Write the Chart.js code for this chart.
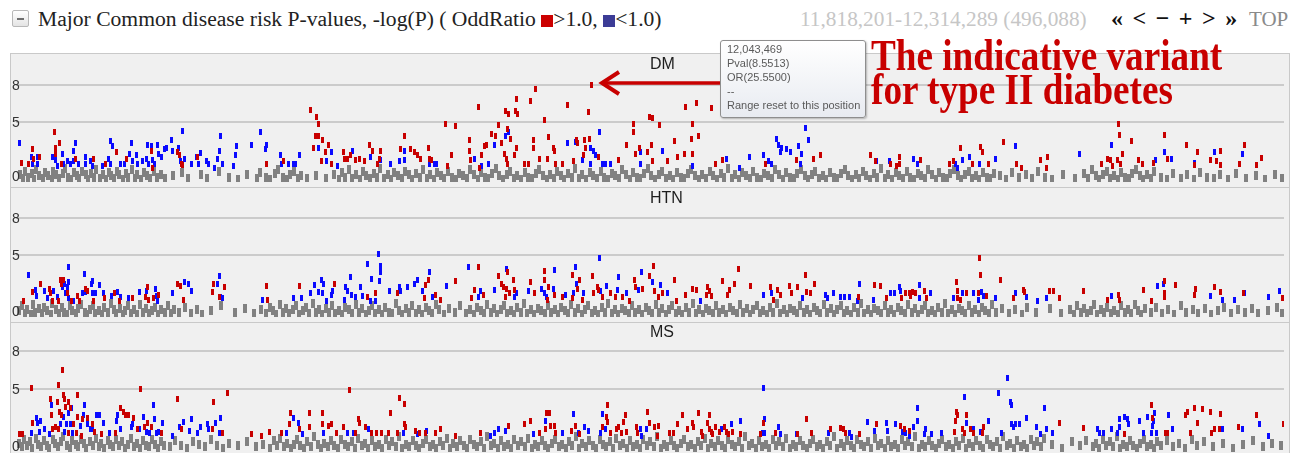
<!DOCTYPE html>
<html>
<head>
<meta charset="utf-8">
<script src="https://cdn.jsdelivr.net/npm/chart.js@4.4.1/dist/chart.umd.min.js"></script>
<style>
html,body{margin:0;padding:0;background:#fff;}
body{width:1294px;height:453px;overflow:hidden;position:relative;}
.abs{position:absolute;white-space:nowrap;}
.serif{font-family:"Liberation Serif","Times New Roman",serif;}
.panel{position:absolute;left:10px;width:1280px;box-sizing:border-box;border:1px solid #c9c9c9;background:#f0f0f0;}
.panel canvas{position:absolute;left:0;top:0;}
.ptitle{position:absolute;left:650px;font:16px/16px "Liberation Sans",Arial,sans-serif;color:#1e1e1e;}
.sq{display:inline-block;width:12px;height:12px;vertical-align:-1px;}
</style>
</head>
<body>
<div class="abs" style="left:12px;top:10px;width:17px;height:17px;box-sizing:border-box;border:1px solid #b8b8b8;border-radius:2px;background:linear-gradient(#ffffff,#e4e4e4);"><div style="position:absolute;left:4px;top:7px;width:7px;height:2px;background:#6e6e6e;"></div></div>
<div class="abs serif" style="left:38px;top:6px;font-size:21.6px;line-height:26px;color:#222;">Major Common disease risk P-values, -log(P) ( OddRatio <span class="sq" style="background:#cc0000"></span>&gt;1.0, <span class="sq" style="background:#3c3c96"></span>&lt;1.0)</div>
<div class="abs serif" id="range" style="left:800px;top:6px;font-size:21.3px;line-height:26px;color:#c6c6c6;"></div>
<div class="abs serif" style="left:1111px;top:5px;font-size:24px;line-height:26px;font-weight:bold;color:#111;letter-spacing:9.5px;">«&lt;−+&gt;»</div>
<div class="abs serif" style="left:1249px;top:6px;font-size:21px;line-height:26px;color:#8a8a8a;">TOP</div>

<div class="panel" style="top:53px;height:135px;"><canvas id="c1" width="1278" height="133"></canvas></div>
<div class="panel" style="top:187px;height:136px;"><canvas id="c2" width="1278" height="134"></canvas></div>
<div class="panel" style="top:322px;height:140px;"><canvas id="c3" width="1278" height="134"></canvas></div>
<div class="ptitle" id="t1" style="top:56px;"></div>
<div class="ptitle" id="t2" style="top:190px;"></div>
<div class="ptitle" id="t3" style="top:324px;"></div>

<svg class="abs" style="left:0;top:0;" width="1294" height="453">
<line x1="604" y1="83" x2="724" y2="83" stroke="#c80000" stroke-width="3.5"/>
<polyline points="619,72 602,83 619,94" fill="none" stroke="#c80000" stroke-width="4"/>
</svg>
<div class="abs" id="tip" style="left:720px;top:40px;width:146px;height:78px;box-sizing:border-box;border:1px solid #8e8e8e;border-radius:3px;background:linear-gradient(#ffffff,#e8ebf1);box-shadow:1px 1px 2px rgba(0,0,0,0.25);font:11px/14px 'Liberation Sans',Arial,sans-serif;color:#5a5a5a;padding:1px 0 0 6px;"></div>
<div class="abs serif" style="left:871px;top:39px;font-size:37.2px;line-height:28.8px;font-weight:bold;color:#c80000;transform:scaleY(1.18);transform-origin:0 0;">The indicative variant<br>for type II diabetes</div>

<script>
// ---- region / annotation values ----
const regionStart = 11818201, regionEnd = 12314289;
const markedPos = 12043469, markedPval = 8.5513, markedOR = 25.55;
const panelNames = ['DM', 'HTN', 'MS'];
const yTickValues = [0, 5, 8];
const displayCap = 8; // -log(P) values above this are drawn on the cap line

// ---- series: [position kb from region start, -log10(P)] ----
const dmRed = [[2.3,1.6],[4.7,1.5],[6.6,2.7],[6.8,1.9],[9.3,2.1],[15.1,4.1],[15.3,2.8],[17.1,3.2],[15.5,2.3],[17.8,1.5],[23.3,1.9],[30.2,1.9],[34.9,1.5],[39.5,2.5],[43.4,1.9],[53.1,2.6],[53.3,1.2],[63.2,2.5],[64.0,2.2],[64.7,1.5],[65.1,1.4],[70.9,2.1],[98.1,1.5],[104.7,1.7],[115.1,6.0],[117.4,5.4],[118.2,4.8],[117.1,3.8],[118.4,3.8],[119.8,3.5],[116.3,2.8],[122.1,3.1],[120.9,2.5],[119.4,1.7],[123.3,1.5],[128.3,2.5],[128.7,1.9],[131.0,2.2],[129.8,1.9],[132.9,1.8],[134.5,1.9],[136.4,1.7],[138.4,3.1],[139.5,2.6],[142.6,2.6],[142.2,1.9],[141.5,1.5],[150.4,2.7],[151.9,3.8],[154.3,2.7],[155.8,2.5],[157.0,2.2],[158.1,1.9],[161.2,2.8],[161.6,1.9],[162.4,1.8],[168.2,4.8],[169.0,1.3],[170.5,2.2],[172.1,4.6],[177.5,3.5],[177.5,2.6],[177.7,1.8],[181.0,6.2],[182.2,2.2],[181.4,1.2],[183.3,3.0],[184.1,3.1],[186.0,4.0],[188.8,4.7],[187.6,3.8],[189.9,3.2],[192.2,4.4],[191.5,5.9],[192.6,5.6],[195.4,5.9],[196.1,5.6],[195.7,6.9],[193.4,3.6],[195.7,2.8],[191.1,2.3],[191.9,1.9],[195.0,2.2],[192.2,1.5],[201.2,6.7],[203.1,7.7],[202.3,3.5],[202.3,2.8],[198.8,1.5],[200.4,1.5],[206.6,5.1],[204.7,1.9],[208.1,1.9],[208.5,3.7],[210.1,2.8],[210.5,2.6],[210.9,1.5],[214.0,1.5],[215.9,6.4],[218.2,1.7],[219.4,3.5],[219.8,3.2],[222.5,3.5],[224.0,5.8],[224.4,3.6],[222.9,2.8],[222.1,2.2],[225.268,8.5513],[227.9,2.1],[235.7,1.8],[238.8,3.1],[241.5,4.8],[241.5,4.1],[242.3,2.3],[243.8,2.8],[247.7,5.4],[249.2,5.3],[248.8,3.1],[246.9,2.5],[249.2,1.7],[251.6,4.7],[255.0,1.7],[257.8,3.4],[258.9,2.1],[261.6,2.3],[262.0,6.2],[266.3,6.5],[264.7,4.8],[264.3,3.6],[267.1,3.8],[264.7,2.3],[272.1,6.1],[273.6,1.5],[276.4,1.8],[293.4,1.5],[305.4,1.8],[312.0,1.9],[314.7,2.2],[334.5,2.2],[336.1,1.7],[342.2,1.5],[345.7,2.1],[345.7,1.5],[344.6,1.3],[353.9,1.8],[369.4,2.8],[365.1,1.5],[366.7,1.7],[374.4,1.5],[377.5,2.9],[378.3,2.5],[380.6,1.5],[386.4,3.3],[391.5,1.5],[393.4,1.2],[400.8,1.8],[403.5,2.1],[403.1,1.2],[424.8,1.5],[427.1,1.9],[428.3,1.8],[429.1,1.3],[431.0,1.8],[431.4,4.8],[431.8,3.9],[433.0,2.3],[432.2,1.5],[436.4,3.4],[439.2,1.8],[440.7,1.5],[445.0,1.6],[449.2,3.9],[450.4,1.9],[458.1,3.1],[462.4,2.5],[460.9,1.4],[467.5,1.8],[469.8,1.7],[471.3,2.6],[471.3,1.4],[478.7,1.5],[480.6,3.1],[485.3,1.4],[487.2,2.0]];
const dmBlue = [[1.2,3.2],[6.2,2.1],[6.3,1.5],[8.5,2.1],[8.6,1.5],[14.3,2.1],[15.5,1.8],[16.3,1.3],[18.2,2.3],[18.6,1.5],[20.2,1.7],[21.3,1.5],[22.5,1.7],[23.3,3.2],[22.6,2.6],[24.4,1.5],[27.1,2.1],[27.2,1.5],[29.1,1.7],[29.8,1.3],[33.7,1.3],[36.8,3.4],[37.6,3.0],[36.0,1.9],[36.9,1.5],[40.7,1.5],[42.6,1.5],[44.6,2.3],[45.3,3.2],[45.7,1.7],[47.3,2.2],[47.7,1.5],[49.6,1.7],[51.6,3.1],[51.2,1.9],[51.7,1.5],[53.1,3.0],[53.5,1.8],[54.3,1.5],[55.4,3.1],[55.8,2.3],[57.0,2.1],[58.1,2.7],[58.9,2.8],[60.9,3.5],[61.2,2.6],[63.6,2.8],[65.1,4.2],[65.9,1.9],[64.3,1.7],[68.6,1.5],[70.5,2.1],[71.3,1.5],[72.1,2.4],[74.4,1.7],[75.2,1.5],[77.5,1.2],[78.7,1.9],[79.5,2.6],[80.2,3.8],[80.6,1.5],[84.9,1.3],[86.4,3.0],[86.0,2.2],[92.2,3.1],[95.7,4.1],[98.1,3.1],[97.7,2.7],[103.5,2.2],[103.9,1.5],[106.6,1.5],[108.5,1.5],[109.3,1.5],[110.9,2.2],[118.2,2.8],[123.3,2.5],[121.3,1.7],[125.6,1.3],[131.8,2.6],[138.8,2.1],[142.6,1.8],[146.5,1.5],[150.0,1.7],[151.9,2.6],[152.0,1.8],[161.6,1.5],[163.6,1.5],[164.7,1.5],[179.5,1.9],[182.2,1.3],[184.9,1.5],[187.2,3.1],[191.5,3.8],[192.6,4.1],[215.9,3.2],[219.0,3.3],[224.8,2.8],[226.0,2.6],[226.7,2.2],[221.7,1.8],[224.9,1.5],[228.3,4.1],[229.5,1.5],[230.6,1.5],[232.6,1.5],[244.2,2.5],[244.3,1.5],[253.1,2.6],[264.7,1.3],[277.9,1.9],[282.9,1.2],[286.8,2.1],[292.6,2.2],[294.6,1.7],[295.7,1.5],[297.7,3.6],[298.5,3.1],[299.6,2.8],[299.2,2.5],[301.6,2.7],[303.1,2.5],[306.2,3.0],[307.4,2.3],[308.9,4.5],[310.1,3.5],[307.0,1.5],[336.8,1.7],[341.9,1.7],[351.2,1.9],[352.7,1.5],[367.4,1.5],[368.2,1.2],[370.5,1.8],[372.9,2.1],[377.1,1.5],[383.3,1.9],[391.1,3.0],[415.9,2.3],[428.7,3.1],[445.7,1.8],[449.2,2.5],[451.9,1.9],[461.2,1.6],[469.0,2.5],[479.8,2.3]];
const dmGray = [[1.6,.6],[2.9,.3],[3.7,.9],[4.8,.4],[6.1,.7],[6.9,.2],[8.0,1.0],[9.1,.5],[10.4,.3],[11.2,.8],[12.5,.5],[13.9,.2],[14.6,.9],[15.8,.6],[17.0,.3],[18.3,.7],[19.1,1.1],[20.4,.4],[21.6,.2],[22.7,.8],[23.9,.5],[24.6,.3],[25.8,.9],[27.2,.6],[28.0,.2],[29.4,.7],[30.5,.4],[31.3,1.0],[32.8,.3],[33.9,.6],[35.1,.2],[36.2,.8],[37.0,.5],[38.5,.3],[39.6,.9],[40.4,.6],[41.9,.2],[43.1,.7],[44.0,.4],[45.3,1.0],[46.6,.3],[47.5,.6],[48.9,.2],[50.2,.8],[51.4,.5],[52.6,.3],[53.8,.9],[55.1,.4],[56.7,.6],[58.2,.3],[61.5,.5],[64.9,.8],[67.3,.3],[72.4,.6],[74.8,.3],[79.3,.9],[83.2,.4],[86.9,.2],[90.5,.6],[94.2,.3],[95.6,.8],[97.9,.4],[99.4,.2],[101.2,.7],[102.6,1.0],[104.4,.4],[106.1,.2],[107.3,.6],[108.8,.9],[110.2,.3],[111.6,.5],[113.9,.3],[117.2,.5],[121.4,.3],[124.6,.6],[126.3,.2],[127.5,.8],[128.9,.4],[130.4,1.0],[131.6,.3],[133.2,.6],[134.5,.2],[135.8,.9],[137.1,.5],[138.5,.3],[139.9,.7],[141.3,.4],[142.5,1.1],[143.9,.3],[145.4,.6],[146.7,.2],[148.0,.8],[149.5,.5],[150.9,.3],[152.3,.9],[153.6,.6],[155.0,.2],[156.5,.7],[157.9,.4],[159.2,1.0],[160.8,.3],[162.1,.6],[163.4,.2],[164.9,.8],[166.3,.5],[167.6,.3],[169.0,.9],[170.7,.4],[172.0,.2],[173.5,.7],[174.9,.5],[176.3,.3],[177.8,1.0],[179.2,.6],[180.6,.2],[182.0,.8],[183.5,.4],[184.8,.3],[186.4,.7],[187.7,1.1],[189.1,.5],[190.6,.2],[192.0,.6],[193.3,.9],[194.9,.3],[196.2,.5],[197.6,.2],[199.1,.8],[200.5,.4],[201.8,.3],[203.3,.7],[204.7,1.0],[206.0,.5],[207.6,.2],[208.9,.6],[210.3,.3],[211.8,.9],[213.2,.5],[214.5,.2],[216.0,.7],[217.4,.4],[218.8,1.1],[220.3,.3],[221.6,.6],[223.1,.2],[224.5,.8],[225.9,.5],[227.4,.3],[228.8,.9],[230.1,.4],[231.6,.2],[233.0,.7],[234.5,.5],[235.9,.3],[237.2,1.0],[238.7,.6],[240.1,.2],[241.5,.8],[243.0,.4],[244.3,.3],[245.8,.7],[247.2,1.1],[248.6,.5],[250.1,.2],[251.5,.6],[252.9,.9],[254.4,.3],[255.7,.5],[257.1,.2],[258.6,.8],[260.0,.4],[261.4,.3],[262.9,.7],[264.2,1.0],[265.7,.5],[267.1,.2],[268.5,.6],[270.0,.3],[271.4,.9],[272.8,.5],[274.2,.2],[275.7,.7],[277.1,.4],[278.5,1.1],[280.0,.3],[281.3,.6],[282.8,.2],[284.2,.8],[285.7,.5],[287.0,.3],[288.5,.9],[289.9,.4],[291.3,.2],[292.8,.7],[294.2,.5],[295.6,.3],[297.0,1.0],[298.5,.6],[299.9,.2],[301.3,.8],[302.8,.4],[304.2,.3],[305.6,.7],[307.0,1.0],[308.5,.5],[309.9,.2],[311.3,.6],[312.7,.9],[314.2,.3],[315.6,.5],[317.0,.2],[318.5,.8],[319.9,.4],[321.3,.3],[322.8,.7],[324.2,1.0],[325.6,.5],[327.0,.2],[328.5,.6],[329.9,.3],[331.3,.9],[332.7,.5],[334.2,.2],[335.6,.7],[337.0,.4],[338.5,1.1],[339.9,.3],[341.3,.6],[342.7,.2],[344.2,.8],[345.6,.5],[347.0,.3],[348.4,.9],[349.9,.4],[351.3,.2],[352.7,.7],[354.1,.5],[355.6,.3],[357.0,1.0],[358.4,.6],[359.8,.2],[361.3,.8],[362.7,.4],[364.1,.3],[365.5,.7],[367.0,1.0],[368.4,.5],[369.8,.2],[371.2,.6],[372.7,.9],[374.1,.3],[375.5,.5],[376.9,.2],[378.4,.8],[379.8,.4],[381.2,.3],[382.6,.7],[384.9,.5],[387.5,.2],[389.8,.8],[392.6,.4],[395.1,.6],[397.4,.3],[399.9,.9],[402.5,.4],[405.2,.2],[409.8,.6],[414.3,.3],[418.0,.7],[419.6,.3],[421.1,1.0],[422.5,.5],[423.9,.2],[425.3,.6],[426.8,.9],[428.2,.3],[429.6,.5],[431.0,.2],[432.5,.8],[433.9,.4],[435.3,.3],[436.7,.7],[438.2,1.0],[439.6,.5],[441.0,.2],[442.4,.6],[443.9,.3],[445.3,.9],[447.9,.4],[450.5,.2],[452.8,.7],[455.6,.3],[458.2,.6],[460.9,.2],[463.4,.8],[466.1,.4],[468.7,.3],[471.2,.6],[474.0,.2],[477.5,.7],[481.3,.3],[485.0,.5],[488.8,.2],[492.6,.6],[495.3,.3]];

const htnRed = [[3.1,1.3],[6.6,2.0],[9.7,2.7],[13.2,2.3],[13.6,1.9],[14.3,1.3],[16.7,1.3],[17.4,3.0],[18.6,3.0],[17.8,2.7],[20.2,1.9],[21.7,1.3],[24.0,1.7],[24.8,1.3],[27.1,2.3],[27.9,2.1],[30.2,1.3],[34.5,1.5],[38.4,1.9],[40.3,1.3],[45.7,1.5],[51.6,2.4],[50.8,1.6],[51.8,1.4],[53.9,1.5],[55.8,1.8],[63.2,2.7],[64.3,2.5],[65.5,1.4],[77.1,2.7],[76.7,2.0],[81.4,2.4],[79.5,1.6],[98.1,2.5],[98.3,1.4],[110.9,2.5],[124.8,2.7],[137.6,1.6],[140.7,1.9],[149.2,1.9],[161.2,3.0],[160.1,2.6],[159.7,1.5],[164.3,1.8],[165.9,1.4],[172.1,2.9],[181.0,4.0],[179.5,2.2],[178.3,1.5],[182.9,1.8],[188.8,3.3],[189.9,2.7],[192.2,3.6],[190.7,2.4],[191.9,2.3],[194.6,3.0],[193.0,1.9],[195.0,2.2],[191.7,1.6],[201.2,2.8],[202.7,1.9],[206.6,3.7],[206.8,3.0],[208.5,2.4],[210.5,1.8],[208.1,1.4],[214.0,1.6],[217.8,3.4],[220.5,3.0],[219.8,2.3],[221.7,1.4],[217.6,1.5],[225.6,3.3],[227.5,2.4],[227.9,2.2],[226.0,1.9],[229.5,1.6],[232.6,1.9],[234.5,1.6],[237.2,1.6],[239.9,1.3],[241.9,3.0],[242.3,2.4],[245.3,2.3],[247.7,3.3],[249.6,4.1],[250.0,2.1],[251.2,1.6],[253.1,1.9],[257.8,3.0],[258.5,1.3],[262.0,1.8],[264.7,2.3],[266.3,2.2],[270.5,2.4],[271.3,2.1],[270.2,1.8],[272.1,1.7],[276.4,2.9],[279.1,2.2],[281.0,2.7],[282.6,3.9],[278.3,1.8],[287.2,2.5],[295.0,2.4],[296.5,1.4],[298.1,2.2],[299.2,1.8],[302.7,2.5],[303.5,1.9],[305.8,2.4],[308.9,3.4],[309.1,2.0],[312.4,2.7],[310.9,1.9],[329.5,1.6],[335.7,2.6],[338.4,2.5],[340.7,1.5],[346.5,1.5],[348.1,1.9],[349.6,1.9],[350.8,2.0],[351.9,1.9],[350.0,1.7],[355.4,2.1],[356.2,1.5],[367.8,2.8],[368.2,2.1],[368.4,1.5],[369.4,1.4],[371.7,1.9],[377.1,4.8],[377.3,3.4],[376.7,1.9],[379.8,1.7],[385.3,3.0],[390.3,1.5],[394.2,2.2],[394.6,2.0],[404.3,2.1],[405.8,2.1],[408.1,1.5],[417.5,2.1],[427.1,1.4],[431.4,1.8],[431.8,1.4],[441.1,2.2],[444.2,1.3],[449.2,2.9],[449.4,1.9],[449.2,1.6],[453.5,2.6],[460.9,1.8],[461.6,2.3],[469.0,2.4],[471.3,2.0],[480.2,1.9],[495.4,1.5]];
const htnBlue = [[5.0,3.4],[7.8,2.2],[7.9,1.7],[11.2,2.1],[12.4,1.5],[14.7,2.1],[16.3,1.6],[18.2,2.4],[19.0,2.7],[20.2,2.4],[20.5,2.8],[20.6,4.0],[19.4,1.9],[20.5,1.5],[22.5,1.3],[26.0,1.9],[26.7,3.5],[27.1,2.0],[29.5,2.7],[29.8,2.9],[29.9,1.9],[31.0,1.9],[32.6,2.6],[34.1,1.9],[37.2,1.7],[39.9,2.0],[40.7,1.6],[44.2,1.5],[48.5,2.0],[51.2,2.1],[54.7,2.3],[54.8,1.7],[55.4,1.3],[61.2,1.9],[65.9,2.8],[67.4,2.7],[68.6,2.1],[79.5,3.3],[78.7,2.7],[80.2,1.6],[80.6,1.5],[96.5,1.4],[108.5,1.5],[111.6,1.5],[115.1,1.9],[116.7,2.6],[118.2,2.0],[119.4,3.0],[120.5,2.7],[119.8,1.9],[121.3,1.3],[124.0,2.1],[123.3,1.8],[129.1,2.4],[129.8,2.1],[131.0,3.2],[128.7,1.4],[131.1,1.8],[132.9,1.6],[134.9,2.4],[135.7,1.7],[137.6,4.3],[139.1,3.1],[138.8,1.3],[141.9,5.1],[142.6,4.1],[142.7,3.6],[142.2,2.9],[140.7,1.3],[146.1,2.1],[150.0,2.4],[150.4,2.1],[153.1,2.4],[155.8,2.7],[157.0,3.0],[158.9,2.1],[161.6,3.6],[162.8,1.6],[168.6,2.5],[177.1,4.0],[181.8,2.1],[181.0,1.6],[187.2,2.2],[191.9,3.9],[195.0,1.6],[195.7,1.9],[200.4,2.1],[205.4,2.3],[206.6,1.9],[207.4,1.6],[210.5,3.8],[210.1,2.3],[215.1,1.8],[219.0,4.0],[219.1,2.7],[218.2,1.9],[222.1,1.9],[228.3,4.8],[228.7,2.1],[231.0,2.5],[235.7,3.2],[235.3,2.2],[238.8,1.9],[244.6,3.6],[243.4,2.2],[249.2,2.8],[252.3,2.6],[254.7,1.9],[267.8,1.3],[292.6,1.8],[295.7,1.9],[307.7,1.5],[316.7,1.8],[317.4,1.5],[319.8,1.9],[322.5,1.6],[324.0,1.6],[326.0,1.6],[329.1,1.3],[329.9,2.7],[335.3,1.4],[342.2,1.9],[343.8,1.9],[345.7,2.4],[346.1,2.1],[353.5,2.6],[353.6,1.5],[357.7,1.9],[366.7,1.5],[370.5,1.9],[374.8,1.9],[376.4,1.4],[377.9,2.0],[378.7,1.7],[383.3,1.5],[391.1,1.9],[395.4,1.6],[399.6,1.3],[403.1,1.5],[428.7,1.7],[446.5,2.5],[448.8,2.7],[467.5,1.7],[472.1,1.4],[476.7,1.4],[480.6,1.9],[489.9,1.6],[494.2,2.1]];
const htnGray = [[1.3,.5],[2.5,.9],[3.6,.3],[4.4,.6],[5.7,.2],[6.8,1.0],[7.6,.4],[8.9,.7],[10.1,.3],[11.0,.8],[12.3,.5],[13.5,.2],[14.2,1.1],[15.6,.6],[16.8,.3],[17.9,.8],[18.7,.4],[20.0,.2],[21.2,.9],[22.1,.5],[23.5,.3],[24.4,.7],[25.6,1.0],[26.9,.4],[27.8,.2],[29.0,.6],[30.3,.9],[31.1,.3],[32.4,.5],[33.6,.2],[34.5,.8],[35.9,.4],[37.0,1.1],[38.2,.6],[39.1,.3],[40.5,.7],[41.7,.2],[42.6,.5],[43.9,.9],[45.0,.3],[46.3,.6],[47.2,.2],[48.6,1.0],[49.8,.4],[50.7,.7],[52.0,.3],[53.2,.5],[54.5,.8],[55.4,.2],[56.8,.6],[58.1,.4],[59.3,.9],[60.6,.3],[61.9,.6],[63.8,.4],[66.0,.8],[68.5,.3],[70.9,.6],[72.6,.2],[76.3,.5],[80.1,.9],[85.8,.4],[89.7,.7],[93.1,.3],[95.8,.6],[97.9,.3],[99.2,.8],[100.4,.5],[101.9,.2],[103.1,1.0],[104.5,.4],[105.7,.7],[107.0,.3],[108.3,.6],[109.6,.9],[110.8,.2],[112.2,.5],[113.5,.8],[114.7,.3],[116.1,1.1],[117.3,.4],[118.6,.6],[119.9,.2],[121.2,.7],[122.4,.4],[123.8,.9],[125.0,.3],[126.4,.5],[127.7,.2],[128.9,.8],[130.3,.6],[131.5,.3],[132.9,1.0],[134.1,.4],[135.4,.7],[136.8,.2],[138.0,.5],[139.4,.9],[140.6,.3],[141.9,.6],[143.3,.2],[144.5,.8],[145.9,.4],[147.1,.3],[148.5,1.1],[149.8,.5],[151.0,.2],[152.4,.7],[153.7,.4],[155.0,.9],[156.3,.3],[157.6,.6],[158.9,.2],[160.3,.8],[161.5,.5],[162.9,.3],[164.2,1.0],[165.4,.6],[167.3,.2],[169.6,.7],[171.8,.4],[173.9,.9],[176.2,.3],[177.8,.6],[179.1,.2],[180.4,.8],[181.8,.5],[183.0,.3],[184.4,1.0],[185.7,.4],[187.0,.7],[188.3,.2],[189.6,.6],[191.0,.9],[192.2,.3],[193.6,.5],[194.9,.2],[196.2,.8],[197.5,.4],[198.9,1.1],[200.1,.3],[201.5,.6],[202.8,.2],[204.1,.7],[205.4,.5],[206.8,.3],[208.0,.9],[209.4,.4],[210.7,.6],[212.0,.2],[213.4,.8],[214.6,.5],[216.0,.3],[217.3,1.0],[218.6,.4],[219.9,.7],[221.3,.2],[222.5,.6],[223.9,.9],[225.2,.3],[226.5,.5],[227.8,.2],[229.2,.8],[230.4,.4],[231.8,1.1],[233.1,.3],[234.4,.6],[235.7,.2],[237.1,.7],[238.3,.5],[239.7,.3],[241.0,.9],[242.3,.4],[243.7,.6],[244.9,.2],[246.3,.8],[247.6,.5],[248.9,.3],[250.2,1.0],[251.6,.4],[252.8,.7],[254.2,.2],[255.5,.6],[256.8,.9],[258.1,.3],[259.5,.5],[260.7,.2],[262.1,.8],[263.4,.4],[264.7,1.1],[266.0,.3],[267.4,.6],[268.6,.2],[270.0,.7],[271.3,.5],[272.6,.3],[274.0,.9],[275.2,.4],[276.6,.6],[277.9,.2],[279.2,.8],[280.5,.5],[281.9,.3],[283.1,1.0],[284.5,.4],[285.8,.7],[287.1,.2],[288.4,.6],[289.8,.9],[291.0,.3],[292.4,.5],[293.7,.2],[295.0,.8],[296.3,.4],[297.7,1.1],[298.9,.3],[300.3,.6],[301.6,.2],[302.9,.7],[304.2,.5],[305.6,.3],[306.8,.9],[308.2,.4],[309.5,.6],[310.8,.2],[312.1,.8],[313.5,.5],[314.7,.3],[316.1,1.0],[317.4,.4],[318.7,.7],[320.0,.2],[321.4,.6],[322.6,.9],[324.0,.3],[325.3,.5],[326.6,.2],[327.9,.8],[329.3,.4],[330.5,1.1],[331.9,.3],[333.2,.6],[334.5,.2],[335.8,.7],[337.2,.5],[338.4,.3],[339.8,.9],[341.1,.4],[342.4,.6],[343.7,.2],[345.1,.8],[346.4,.5],[347.7,.3],[349.0,1.0],[350.4,.4],[351.6,.7],[353.0,.2],[354.3,.6],[355.6,.9],[356.9,.3],[358.3,.5],[359.5,.2],[360.9,.8],[362.2,.4],[363.5,1.1],[364.8,.3],[366.2,.6],[367.4,.2],[368.8,.7],[370.1,.5],[371.4,.3],[372.7,.9],[374.1,.4],[375.3,.6],[376.7,.2],[378.0,.8],[379.3,.5],[380.6,.3],[382.0,1.0],[383.3,.4],[385.9,.7],[388.4,.3],[390.8,.6],[393.5,.2],[395.6,.8],[399.2,.4],[404.7,.7],[409.0,.3],[412.5,.6],[413.8,.2],[415.2,.9],[416.5,.4],[417.8,.7],[419.1,.3],[420.5,.5],[421.8,1.0],[423.1,.2],[424.4,.6],[425.8,.4],[427.0,.8],[428.4,.3],[429.7,.5],[431.0,.2],[432.3,.9],[433.7,.4],[435.0,.6],[436.3,.3],[437.6,1.0],[439.0,.5],[440.3,.2],[441.6,.7],[443.9,.4],[446.2,.8],[448.5,.3],[450.9,.6],[453.1,.2],[455.6,.9],[457.8,.4],[460.3,.6],[462.5,.3],[465.0,.7],[467.6,.2],[470.1,.5],[472.7,.8],[475.4,.3],[478.0,.6],[480.9,.4],[483.5,.7],[486.1,.3],[489.8,.5],[493.4,.8],[495.5,.3]];

const msRed = [[1.2,1.4],[2.7,1.4],[6.2,5.1],[6.3,2.3],[13.6,4.2],[14.0,2.9],[14.3,1.8],[16.3,4.0],[16.7,5.3],[18.2,6.5],[18.6,4.5],[19.0,4.2],[17.1,3.2],[17.8,2.9],[19.4,3.6],[20.5,4.0],[21.3,3.5],[15.5,2.0],[16.7,1.8],[20.5,1.5],[22.5,2.2],[24.0,4.5],[24.1,2.8],[23.6,1.5],[26.0,2.6],[27.9,2.7],[25.6,1.3],[29.8,2.2],[30.6,1.6],[33.3,1.4],[38.8,1.5],[40.7,3.5],[41.9,3.2],[43.0,2.9],[44.2,2.9],[46.1,2.7],[47.7,1.8],[48.8,5.0],[50.4,2.0],[51.6,2.3],[53.1,2.0],[57.0,1.5],[63.2,4.2],[64.7,1.8],[77.1,4.0],[76.7,1.8],[80.6,1.5],[82.6,4.7],[92.2,1.4],[96.1,1.3],[99.2,1.6],[103.9,1.5],[107.4,3.1],[107.0,2.2],[110.9,1.8],[114.7,3.1],[114.8,2.0],[119.8,3.1],[119.9,2.2],[122.1,2.1],[123.3,2.2],[125.2,1.5],[128.3,2.0],[130.6,4.9],[134.1,2.6],[134.2,2.3],[132.9,1.5],[136.8,2.0],[139.1,1.5],[141.1,1.5],[143.0,1.5],[145.7,1.5],[146.5,3.1],[150.0,4.3],[149.2,1.5],[151.9,3.8],[151.9,2.2],[152.3,2.0],[156.2,1.7],[157.8,1.5],[160.1,1.5],[165.9,1.8],[164.3,1.5],[172.1,1.3],[181.8,1.5],[192.6,2.1],[198.8,2.2],[201.2,2.5],[205.0,1.5],[207.4,3.1],[208.9,3.1],[207.0,1.8],[209.3,2.1],[210.5,2.1],[210.9,1.5],[217.4,1.7],[219.0,2.1],[220.5,1.4],[231.4,3.7],[231.0,2.8],[231.5,2.4],[229.5,2.0],[232.6,1.5],[234.9,1.8],[235.7,2.0],[237.6,2.4],[238.4,2.9],[236.8,1.5],[238.8,1.6],[242.6,2.0],[243.0,1.5],[246.9,3.2],[247.7,2.3],[250.0,2.0],[251.2,2.1],[250.8,1.3],[255.8,1.5],[257.4,1.5],[258.9,2.2],[260.9,2.9],[262.8,1.8],[264.7,2.3],[265.1,2.0],[267.1,3.1],[268.2,1.6],[268.6,1.3],[271.3,2.9],[270.5,2.3],[271.5,1.8],[272.1,1.6],[272.5,1.4],[273.6,2.0],[275.2,1.6],[277.1,2.0],[277.9,1.6],[278.7,1.4],[280.2,1.6],[283.3,1.4],[292.6,2.3],[291.1,1.4],[297.3,1.5],[305.8,1.4],[309.3,2.6],[311.2,1.5],[318.6,1.8],[322.5,1.9],[323.6,1.8],[324.4,1.5],[329.9,1.4],[336.8,2.2],[346.1,2.1],[347.7,1.8],[349.6,1.7],[367.1,1.6],[367.8,3.2],[368.2,2.9],[367.4,2.5],[371.7,2.9],[370.2,1.8],[370.9,1.5],[373.3,1.8],[374.8,1.5],[378.7,2.0],[378.3,1.5],[408.1,2.3],[417.8,1.9],[433.7,1.4],[444.2,3.7],[444.6,2.7],[449.6,1.5],[450.4,1.5],[457.7,2.9],[458.5,3.2],[461.2,3.5],[462.4,2.3],[459.7,1.5],[464.3,3.4],[467.5,3.2],[471.3,3.0],[467.9,1.5],[469.0,1.8],[470.9,1.8],[478.3,2.0],[485.3,2.9],[495.7,2.2]];
const msBlue = [[6.2,1.5],[8.1,2.7],[8.5,2.3],[9.3,1.6],[9.7,2.5],[11.2,1.8],[13.2,1.4],[14.0,3.7],[17.4,2.2],[18.6,2.8],[20.5,3.1],[21.7,3.5],[19.8,2.2],[19.0,1.6],[21.3,2.2],[22.1,1.5],[25.2,2.1],[26.7,3.7],[26.4,2.9],[27.9,2.2],[29.1,1.8],[29.8,1.8],[31.4,2.9],[32.6,2.9],[34.1,2.3],[36.4,1.5],[39.9,2.9],[39.5,2.5],[40.7,1.8],[45.0,2.0],[45.7,2.2],[48.5,1.8],[50.0,2.8],[51.2,1.6],[52.3,1.5],[53.9,3.7],[54.3,2.6],[55.0,1.5],[55.8,1.6],[57.4,2.3],[61.2,1.3],[64.0,2.0],[65.5,2.4],[67.8,1.7],[68.6,2.6],[70.9,1.5],[72.1,2.0],[74.8,2.2],[75.2,1.8],[77.9,2.3],[80.2,2.7],[79.5,1.5],[105.8,1.5],[108.5,2.7],[110.5,2.3],[112.0,1.4],[120.5,1.5],[129.8,1.5],[132.2,1.5],[138.0,1.8],[151.5,1.5],[157.0,1.4],[160.5,1.7],[185.7,1.3],[187.2,1.5],[188.8,1.8],[191.5,1.7],[202.3,1.4],[207.0,2.5],[214.0,1.5],[218.2,3.0],[220.2,1.5],[222.5,2.0],[224.0,1.7],[228.7,1.5],[229.5,3.0],[230.6,1.8],[244.2,1.8],[244.6,1.3],[246.5,1.8],[276.0,1.8],[279.8,2.2],[283.3,2.5],[292.6,5.1],[292.7,2.6],[291.9,1.5],[293.0,1.5],[298.5,2.0],[299.2,1.4],[305.4,1.4],[317.8,1.5],[326.0,1.5],[326.7,1.2],[333.3,2.4],[335.7,1.7],[340.7,2.3],[341.1,1.7],[344.2,2.2],[346.9,1.6],[348.1,1.5],[349.6,1.3],[351.2,2.0],[352.7,2.5],[352.8,3.5],[355.8,1.8],[355.4,1.4],[358.1,1.4],[362.0,1.5],[370.9,4.4],[371.7,2.3],[374.8,1.8],[377.5,1.6],[380.6,2.5],[384.5,4.7],[388.0,5.9],[389.2,4.0],[389.3,3.7],[389.6,2.2],[390.3,2.0],[391.1,2.2],[392.6,2.2],[395.4,2.7],[385.7,1.5],[399.2,2.0],[400.8,1.4],[402.3,3.5],[403.1,1.8],[405.4,1.5],[423.2,1.8],[424.0,1.5],[425.6,1.5],[428.7,1.8],[431.0,1.5],[431.8,2.6],[431.9,2.0],[433.7,2.8],[434.9,2.6],[435.3,2.2],[439.5,2.5],[441.1,1.5],[442.6,2.8],[445.4,3.1],[445.0,2.5],[444.6,2.1],[444.3,1.5],[446.1,1.5],[450.8,2.9],[452.3,1.8],[472.1,1.8],[479.8,1.8],[486.6,2.2],[489.9,1.3]];
const msGray = [[1.0,.7],[2.2,.4],[3.1,1.0],[4.3,.5],[5.5,.8],[6.4,.3],[7.7,1.1],[8.8,.6],[9.6,.4],[10.9,.9],[12.0,.5],[13.1,.3],[14.4,1.0],[15.2,.7],[16.6,.4],[17.7,.8],[18.5,1.2],[19.8,.5],[21.0,.3],[22.1,.9],[23.3,.6],[24.2,.4],[25.6,1.0],[26.7,.7],[27.5,.3],[28.8,.8],[30.0,.5],[31.2,1.1],[32.3,.4],[33.4,.7],[34.6,.3],[35.8,.9],[36.9,.6],[38.0,.4],[39.3,1.0],[40.4,.5],[41.5,.8],[42.8,.3],[43.9,.6],[45.1,1.1],[46.2,.4],[47.4,.7],[48.5,.3],[49.7,.9],[50.9,.5],[52.0,.4],[53.3,1.0],[54.4,.6],[55.6,.3],[56.8,.8],[57.9,.5],[60.1,.4],[62.4,.9],[64.6,.5],[66.9,.3],[69.3,.8],[71.5,.6],[73.8,.4],[76.2,1.0],[78.7,.5],[81.0,.3],[83.5,.7],[86.9,.5],[90.3,.8],[93.8,.4],[96.6,.6],[99.5,.3],[100.8,.9],[102.1,.5],[103.4,1.1],[104.8,.4],[106.0,.7],[107.4,.3],[108.7,.6],[110.0,1.0],[111.3,.5],[112.7,.3],[114.0,.8],[115.3,.4],[116.7,1.2],[118.0,.6],[119.3,.3],[120.6,.7],[122.0,.4],[123.3,.9],[124.6,.5],[126.0,.3],[127.3,1.0],[128.6,.6],[129.9,.4],[131.3,.8],[132.6,.3],[133.9,1.1],[135.3,.5],[136.6,.7],[137.9,.3],[139.2,.9],[140.6,.4],[141.9,.6],[143.2,.3],[144.6,1.0],[145.9,.5],[147.2,.8],[148.5,.4],[149.9,1.2],[151.2,.3],[152.5,.6],[153.9,.4],[155.2,.9],[156.5,.5],[157.8,.3],[159.2,.7],[160.5,1.0],[161.8,.4],[163.2,.6],[164.5,.3],[165.8,.8],[167.1,.5],[168.5,1.1],[169.8,.3],[171.1,.7],[172.5,.4],[173.8,.9],[175.1,.5],[176.4,.3],[177.8,1.0],[179.1,.6],[180.4,.4],[181.8,.8],[183.1,.3],[184.4,1.2],[185.7,.5],[187.1,.7],[188.4,.3],[189.7,.9],[191.1,.4],[192.4,.6],[193.7,.3],[195.0,1.0],[196.4,.5],[197.7,.8],[199.0,.4],[200.4,1.1],[201.7,.3],[203.0,.6],[204.3,.4],[205.7,.9],[207.0,.5],[208.3,.3],[209.7,.7],[211.0,1.0],[212.3,.4],[213.6,.6],[215.0,.3],[216.3,.8],[217.6,.5],[219.0,1.2],[220.3,.3],[221.6,.7],[222.9,.4],[224.3,.9],[225.6,.5],[226.9,.3],[228.3,1.0],[229.6,.6],[230.9,.4],[232.2,.8],[233.6,.3],[234.9,1.1],[236.2,.5],[237.6,.7],[238.9,.3],[240.2,.9],[241.5,.4],[242.9,.6],[244.2,.3],[245.5,1.0],[246.9,.5],[248.2,.8],[249.5,.4],[250.8,1.2],[252.2,.3],[253.5,.6],[254.8,.4],[256.2,.9],[257.5,.5],[258.8,.3],[260.1,.7],[261.5,1.0],[262.8,.4],[264.1,.6],[265.5,.3],[266.8,.8],[268.1,.5],[269.4,1.1],[270.8,.3],[272.1,.7],[273.4,.4],[274.8,.9],[276.1,.5],[277.4,.3],[278.7,1.0],[280.1,.6],[281.4,.4],[282.7,.8],[284.1,.3],[285.4,1.2],[286.7,.5],[288.0,.7],[289.4,.3],[290.7,.9],[292.0,.4],[293.4,.6],[294.7,.3],[296.0,1.0],[297.3,.5],[298.7,.8],[300.0,.4],[301.3,1.1],[302.7,.3],[304.0,.6],[305.3,.4],[306.6,.9],[308.0,.5],[309.3,.3],[310.6,.7],[312.0,1.0],[313.3,.4],[314.6,.6],[315.9,.3],[317.3,.8],[318.6,.5],[319.9,1.2],[321.3,.3],[322.6,.7],[323.9,.4],[325.2,.9],[326.6,.5],[327.9,.3],[329.2,1.0],[330.6,.6],[331.9,.4],[333.2,.8],[334.5,.3],[335.9,1.1],[337.2,.5],[338.5,.7],[339.8,.3],[341.2,.9],[342.5,.4],[343.8,.6],[345.1,.3],[346.5,1.0],[347.8,.5],[349.1,.8],[350.5,.4],[351.8,1.2],[353.1,.3],[354.4,.6],[355.8,.4],[357.1,.9],[358.4,.5],[359.8,.3],[361.1,.7],[362.4,1.0],[363.7,.4],[365.1,.6],[366.4,.3],[367.7,.8],[369.1,.5],[370.4,1.1],[371.7,.3],[373.0,.7],[374.4,.4],[375.7,.9],[377.0,.5],[378.4,.3],[379.7,1.0],[381.0,.6],[382.3,.4],[383.7,.8],[385.0,.3],[386.3,1.2],[387.7,.5],[389.0,.7],[390.3,.3],[391.6,.9],[393.0,.4],[394.3,.6],[395.6,.3],[397.0,1.0],[398.3,.5],[399.6,.8],[400.9,.4],[402.3,1.1],[405.5,.6],[409.2,.3],[413.0,.8],[416.4,.5],[418.8,.9],[421.3,.4],[422.6,.7],[423.9,.3],[425.3,1.0],[426.6,.5],[427.9,.8],[429.2,.4],[430.6,1.2],[431.9,.3],[433.2,.6],[434.6,.4],[435.9,.9],[437.2,.5],[438.5,.3],[439.9,.7],[441.2,1.0],[442.5,.4],[443.9,.6],[445.2,.3],[446.5,.8],[447.8,.5],[450.3,.9],[452.7,.4],[455.0,.7],[457.4,.3],[459.9,1.0],[462.2,.5],[464.6,.8],[468.5,.4],[472.4,.7],[476.0,.3],[479.9,.6],[484.1,.9],[487.7,.4],[491.5,.7],[494.8,.5]];

// ---- text built from values ----
const fmt = n => n.toLocaleString('en-US');
document.getElementById('range').textContent =
  fmt(regionStart) + '-' + fmt(regionEnd) + ' (' + fmt(regionEnd - regionStart) + ')';
document.getElementById('tip').innerHTML =
  fmt(markedPos) + '<br>Pval(' + markedPval.toFixed(4) + ')<br>OR(' + markedOR.toFixed(4) + ')<br>--<br>Range reset to this position';
panelNames.forEach((n, i) => { document.getElementById('t' + (i + 1)).textContent = n; });

// ---- chart ----
const regionKb = (regionEnd - regionStart) / 1000;
function mark(color, w, h) {
  const c = document.createElement('canvas');
  c.width = w; c.height = h;
  const g = c.getContext('2d');
  g.fillStyle = color; g.fillRect(0, 0, w, h);
  return c;
}
const redMark = mark('#c80000', 3, 6);
const blueMark = mark('#0a0aff', 3, 6);
const grayMark = mark('#818181', 4, 9);
const toXY = arr => arr.map(p => ({ x: p[0], y: Math.min(p[1], displayCap) }));

const noSmooth = { id: 'noSmooth', beforeDatasetsDraw(chart) { chart.ctx.imageSmoothingEnabled = false; } };
const yLabels = {
  id: 'yLabels',
  afterDraw(chart) {
    const ctx = chart.ctx, ys = chart.scales.y;
    ctx.save();
    ctx.font = '14px "Liberation Sans", Arial, sans-serif';
    ctx.fillStyle = '#333';
    ctx.textAlign = 'left';
    ctx.textBaseline = 'alphabetic';
    yTickValues.forEach(v => {
      const py = ys.getPixelForValue(v);
      if (v === 0) ctx.fillText(String(v), 1, py - 1);
      else ctx.fillText(String(v), 1, py + 5);
    });
    ctx.restore();
  }
};

function panel(id, red, blue, gray, ymax) {
  new Chart(document.getElementById(id), {
    type: 'scatter',
    data: {
      datasets: [
        { label: '>1.0', data: toXY(red), pointStyle: redMark, pointRadius: 2 },
        { label: '<1.0', data: toXY(blue), pointStyle: blueMark, pointRadius: 2 },
        { label: 'n.s.', data: toXY(gray), pointStyle: grayMark, pointRadius: 2 }
      ]
    },
    options: {
      responsive: false, animation: false, events: [],
      layout: { padding: 0 },
      plugins: { legend: { display: false }, tooltip: { enabled: false }, title: { display: false } },
      scales: {
        x: { type: 'linear', min: 0, max: regionKb, display: false },
        y: {
          type: 'linear', min: 0, max: ymax, z: 1,
          afterBuildTicks: s => { s.ticks = yTickValues.map(v => ({ value: v })); },
          ticks: { display: false },
          border: { display: false },
          grid: { drawTicks: false, tickLength: 0, lineWidth: 2,
                  color: c => (c.tick && c.tick.value === 0) ? 'rgba(0,0,0,0)' : '#cbcbcb' }
        }
      }
    },
    plugins: [noSmooth, yLabels]
  });
}
panel('c1', dmRed, dmBlue, dmGray, 10.18);
panel('c2', htnRed, htnBlue, htnGray, 10.02);
panel('c3', msRed, msBlue, msGray, 9.85);
</script>
</body>
</html>
